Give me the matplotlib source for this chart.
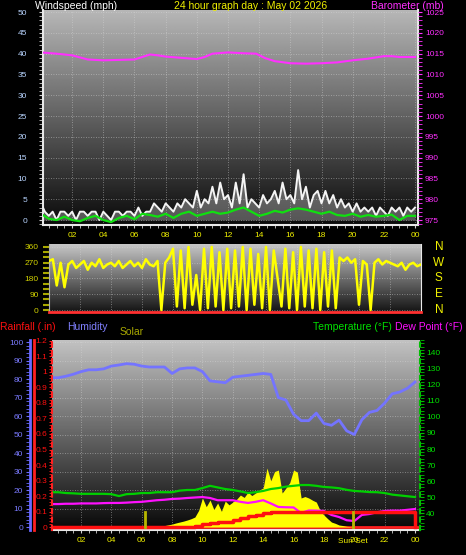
import matplotlib
matplotlib.use('Agg')
import matplotlib.pyplot as plt
import matplotlib.transforms as mtransforms
import numpy as np
from matplotlib.lines import Line2D
from matplotlib.ticker import MultipleLocator

plt.rcParams['font.family'] = ['Liberation Sans', 'DejaVu Sans']

W, H = 466, 555

# ---------------- data ----------------
hour_ticks = [2, 4, 6, 8, 10, 12, 14, 16, 18, 20, 22, 24]
hour_labels = ['02', '04', '06', '08', '10', '12', '14', '16', '18', '20', '22', '00']

wind_ticks = [0, 5, 10, 15, 20, 25, 30, 35, 40, 45, 50]
baro_ticks = [975, 980, 985, 990, 995, 1000, 1005, 1010, 1015, 1020, 1025]
dir_ticks = [0, 90, 180, 270, 360]
compass = ['N', 'E', 'S', 'W', 'N']
hum_ticks = [0, 10, 20, 30, 40, 50, 60, 70, 80, 90, 100]
rain_ticks = [0, 0.1, 0.2, 0.3, 0.4, 0.5, 0.6, 0.7, 0.8, 0.9, 1.0, 1.1, 1.2]
rain_labels = ['0', '0.1', '0.2', '0.3', '0.4', '0.5', '0.6', '0.7', '0.8', '0.9', '1', '1.1', '1.2']
temp_ticks = [40, 50, 60, 70, 80, 90, 100, 110, 120, 130, 140]

# barometer (mb)
baro_hours = [0, 1, 2, 3, 4, 5, 6, 7, 7.5, 8, 9, 10, 10.5, 11, 12, 13, 13.8, 14.4,
              15, 16, 17, 18, 19, 20, 21, 22, 22.5, 23, 24]
baro_mb = [1015.3, 1015.0, 1014.6, 1013.6, 1013.4, 1013.5, 1013.6, 1014.8, 1014.6, 1014.3,
           1014.0, 1013.7, 1014.2, 1015.0, 1015.3, 1015.1, 1015.0, 1013.9,
           1013.2, 1012.7, 1012.6, 1012.7, 1012.9, 1013.4, 1013.8, 1014.4, 1014.4, 1014.2, 1014.2]

# wind gust (mph), every 15 min
gust_mph = [4, 2, 1, 2, 0, 2, 2, 1, 2, 0, 2, 2, 1, 2, 2, 0,
            2, 1, 0, 2, 2, 1, 2, 2, 1, 3, 1, 2, 2, 4, 3, 2,
            4, 3, 2, 4, 3, 5, 4, 3, 7, 3, 5, 4, 8, 4, 9, 5,
            6, 3, 9, 4, 11, 3, 5, 4, 3, 6, 4, 5, 7, 4, 9, 5,
            6, 4, 12, 5, 8, 3, 6, 7, 4, 7, 4, 6, 3, 5, 3, 4,
            2, 4, 2, 3, 2, 3, 1, 3, 2, 1, 3, 2, 3, 1, 3, 2, 3]
# average wind speed (mph), every 30 min
avg_mph = [1.5, 0.3, 0, 0.8, 0, -0.3, 0.5, 1, 0, -0.5, 0.5, 1, 0.2, 1.5, 1.2, 0.8,
           1.5, 0.5, 1.5, 2, 1, 1.5, 2, 1.5, 1.8, 2.5, 3, 2, 1, 1.5, 2.2, 1.8,
           2.5, 2.8, 2.5, 2, 1.5, 2, 1.2, 1, 1.5, 0.8, 1.2, 0.8, 1, 1.3, 0, 1, 1]

# wind direction (degrees), every 15 min
wind_dir = [280, 290, 140, 270, 130, 260, 280, 240, 260, 280, 230, 270, 250, 290, 240, 260,
            270, 250, 280, 240, 260, 280, 250, 270, 240, 290, 260, 250, 280, 0, 270, 300,
            350, 20, 340, 10, 360, 30, 200, 0, 350, 10, 360, 20, 330, 0, 350, 10,
            340, 20, 360, 0, 350, 30, 320, 10, 360, 0, 340, 180, 20, 350, 10, 330,
            0, 360, 20, 340, 10, 350, 0, 330, 20, 340, 10, 300, 280, 300, 270, 290,
            30, 280, 260, 0, 270, 290, 260, 280, 270, 260, 250, 270, 230, 260, 270, 250, 260]

# humidity (%), temperature and dew point (F), every 30 min
humidity = [80.7, 80.7, 81.5, 82.6, 84, 85, 85, 85.5, 87, 87.6, 88.3, 88, 87, 86.5, 86.5, 86.5,
            83, 85.5, 86, 86, 84, 79, 78.5, 78, 81, 81.5, 82, 82.5, 83, 82.5, 70, 68.6,
            61, 57.5, 57.5, 61.6, 56, 55, 57.8, 52, 50, 58, 62, 63, 67, 72, 73, 75, 78.4]
temp_f = [53, 53, 52.5, 52.3, 52, 52, 52, 52, 51.8, 50.6, 51.8, 52, 52.5, 52.5, 53, 53,
          53, 54, 54.4, 54.4, 55.6, 57, 56, 55, 54.4, 53.5, 52.5, 53, 53.8, 55, 55.6, 56.5,
          57, 57.5, 57.5, 57, 56.3, 56, 55.5, 54.5, 53.8, 53.5, 53.1, 53, 52.5, 51.5, 51, 50.5, 50]
dew_f = [45.6, 45.6, 45.8, 45.8, 46, 46, 46, 46.2, 46.3, 46.3, 46.5, 46.8, 47, 47.5, 48, 48.3,
         48.8, 49, 49.4, 49.7, 50, 49.4, 48, 48, 48, 47, 46.3, 47, 48, 46, 43.8, 43.6,
         43.5, 40, 41.6, 41.5, 41.3, 38.8, 37.5, 35.5, 35, 38.8, 39.4, 40.5, 41.3, 41.5, 41.5, 42, 42.5]

# daily rainfall (in)
rain_hours = [0, 9.25, 9.5, 10, 10.5, 11, 11.5, 12, 12.5, 13, 13.5, 14, 14.5, 15, 23.95, 24]
rain_in = [0, 0, 0.01, 0.02, 0.025, 0.03, 0.035, 0.045, 0.06, 0.07, 0.08, 0.09, 0.1, 0.1, 0.1, 0]

# solar radiation (W/m2), every 15 min from 06:30
solar_start = 6.5
solar_wm2 = [0, 0, 3, 5, 8, 12, 16, 22, 27, 32, 38, 45, 54, 90, 157, 110,
             146, 95, 130, 85, 140, 120, 135, 150, 173, 160, 189, 170, 184, 200, 211, 319,
             250, 300, 308, 184, 211, 240, 308, 297, 157, 165, 157, 145, 135, 90, 65, 45,
             27, 20, 11, 8, 4, 2, 0]

sun_times = [6.2, 19.9]

t15 = np.arange(len(gust_mph)) * 0.25
t30 = np.arange(len(avg_mph)) * 0.5
td = np.arange(len(wind_dir)) * 0.25
th = np.arange(len(humidity)) * 0.5
ts = solar_start + np.arange(len(solar_wm2)) * 0.25

# ---------------- figure ----------------
fig = plt.figure(figsize=(W / 100, H / 100), dpi=100, facecolor='black')


def box(l, t, r, b):
    return fig.add_axes([l / W, 1 - b / H, (r - l) / W, (b - t) / H])


def shade(ax, top, bottom):
    g = np.linspace(top, bottom, 256).reshape(-1, 1)
    ax.imshow(g, cmap='gray', vmin=0, vmax=1, aspect='auto', extent=(0, 1, 0, 1),
              transform=ax.transAxes, zorder=0, interpolation='bilinear')


def dotted_grid(ax):
    ax.grid(True, which='major', color='#d8d8d8', lw=0.6, ls=(0, (1, 2)), alpha=0.6)


def hide(ax, names):
    for n in names:
        ax.spines[n].set_visible(False)


def label(x, y, s, color, size=7.5, ha='left'):
    fig.text(x / W, 1 - y / H, s, color=color, fontsize=size, ha=ha, va='center')


# ---- top: wind speed + barometer ----
ax_w = box(43, 10, 418, 225)
shade(ax_w, 0.72, 0.04)
ax_w.fill_between(t15, 0, gust_mph, color='#e0e0e0', alpha=0.35, lw=0, zorder=2)
ax_w.plot(t15, gust_mph, color='#f4f4f4', lw=1.4, zorder=3)
ax_w.plot(t30, avg_mph, color='#10e010', lw=1.6, zorder=4)
ax_w.set_xlim(0.13, 24.19)
ax_w.set_ylim(-1.2, 50.5)
ax_w.set_xticks(hour_ticks)
ax_w.set_xticklabels(hour_labels)
ax_w.xaxis.set_minor_locator(MultipleLocator(0.5))
ax_w.set_yticks(wind_ticks)
ax_w.yaxis.set_minor_locator(MultipleLocator(1))
ax_w.tick_params(axis='x', which='both', colors='#d0d0d0', labelcolor='#f0f000',
                 labelsize=6, length=2, pad=3)
ax_w.tick_params(axis='y', which='both', colors='#d0d0d0', labelcolor='#b8d4ff',
                 labelsize=6, length=3, pad=8.5)
dotted_grid(ax_w)
for n in ['left', 'bottom', 'right']:
    ax_w.spines[n].set_color('#e8e8e8')
    ax_w.spines[n].set_linewidth(1.5)
hide(ax_w, ['top'])

ax_b = ax_w.twinx()
ax_b.plot(baro_hours, baro_mb, color='#ff30ff', lw=1.5)
ax_b.set_ylim(973.8, 1025.5)
ax_b.set_yticks(baro_ticks)
ax_b.yaxis.set_minor_locator(MultipleLocator(1))
ax_b.tick_params(axis='y', which='both', colors='#ff30ff', labelcolor='#ff30ff',
                 labelsize=6, length=3, pad=2)
hide(ax_b, ['left', 'right', 'top', 'bottom'])

label(35, 6, 'Windspeed (mph)', 'white')
label(251, 6, '24 hour graph day : May 02 2026', '#f0f000', ha='center')
label(371, 6, 'Barometer (mb)', '#ff30ff')

# ---- middle: wind direction ----
ax_d = box(49, 244, 421, 312)
shade(ax_d, 0.78, 0.08)
ax_d.plot(td, wind_dir, color='#ffff00', lw=1.8, zorder=3)
ax_d.set_xlim(0, 24)
ax_d.set_ylim(-11.4, 377)
ax_d.set_xticks(hour_ticks)
ax_d.tick_params(axis='x', length=0, labelbottom=False)
ax_d.set_yticks(dir_ticks)
ax_d.yaxis.set_minor_locator(MultipleLocator(30))
ax_d.tick_params(axis='y', which='both', colors='#a8a800', labelcolor='#d0d000',
                 labelsize=6, length=4, width=1.5, pad=3.5)
dotted_grid(ax_d)
ax_d.spines['bottom'].set_color('#ff3030')
ax_d.spines['bottom'].set_linewidth(2)
ax_d.spines['left'].set_color('#b0b0b0')
ax_d.spines['right'].set_color('#e8e8e8')
hide(ax_d, ['top'])
blend = mtransforms.blended_transform_factory(ax_d.transAxes, ax_d.transData)
for v, s in zip(dir_ticks, compass):
    ax_d.text(1.048, v, s, transform=blend, color='#f0f000', fontsize=8.5,
              ha='center', va='center')

# ---- bottom: humidity, rain, solar, temperature ----
ax_h = box(52, 340, 420, 530)
shade(ax_h, 0.76, 0.03)
ax_h.plot(th, humidity, color='#7474ff', lw=2, zorder=3)
ax_h.set_xlim(0.09, 24.33)
ax_h.set_ylim(-1.6, 101.1)
ax_h.set_xticks(hour_ticks)
ax_h.set_xticklabels(hour_labels)
ax_h.xaxis.set_minor_locator(MultipleLocator(0.5))
ax_h.set_yticks(hum_ticks)
ax_h.yaxis.set_minor_locator(MultipleLocator(2))
ax_h.tick_params(axis='x', which='both', colors='#d0d0d0', labelcolor='#f0f000',
                 labelsize=6, length=2, pad=3)
ax_h.tick_params(axis='y', which='both', colors='#6a6aff', labelcolor='#7a7aff',
                 labelsize=6, length=3, pad=2)
dotted_grid(ax_h)
ax_h.spines['left'].set_position(('outward', 15.8))
ax_h.spines['left'].set_color('#6a6aff')
ax_h.spines['left'].set_linewidth(2)
ax_h.spines['bottom'].set_color('#e8e8e8')
ax_h.spines['bottom'].set_linewidth(1.5)
hide(ax_h, ['top', 'right'])

ax_s = ax_h.twinx()
ax_s.axhline(0, color='#ff2020', lw=2, zorder=1)
ax_s.fill_between(ts, 0, solar_wm2, color='#ffff00', lw=0, zorder=2)
ax_s.set_ylim(-16, 1011)
ax_s.set_yticks([])
hide(ax_s, ['left', 'right', 'top', 'bottom'])

ax_t = ax_h.twinx()
ax_t.plot(th, temp_f, color='#00d000', lw=1.6)
ax_t.plot(th, dew_f, color='#ff10ff', lw=1.6)
ax_t.set_ylim(29.4, 148.1)
ax_t.set_yticks(temp_ticks)
ax_t.yaxis.set_minor_locator(MultipleLocator(2))
ax_t.tick_params(axis='y', which='both', colors='#00c000', labelcolor='#00e000',
                 labelsize=6, length=3, pad=1.5)
ax_t.spines['right'].set_color('#00c000')
ax_t.spines['right'].set_linestyle((0, (2, 2)))
ax_t.spines['right'].set_linewidth(1.5)
hide(ax_t, ['left', 'top', 'bottom'])

ax_r = ax_h.twinx()
ax_r.plot(rain_hours, rain_in, color='#ff1010', lw=2.5, drawstyle='steps-post')
for t in sun_times:
    ax_r.axvline(t, ymin=0.015, ymax=0.095, color='#b8b800', lw=2)
ax_r.set_ylim(-0.019, 1.206)
ax_r.yaxis.tick_left()
ax_r.set_yticks(rain_ticks)
ax_r.set_yticklabels(rain_labels)
ax_r.yaxis.set_minor_locator(MultipleLocator(0.02))
ax_r.tick_params(axis='y', which='both', colors='#ff2020', labelcolor='#ff1010',
                 labelsize=6, length=2.2, pad=1)
ax_r.spines['left'].set_color('#ff2020')
ax_r.spines['left'].set_linestyle((0, (2, 2)))
ax_r.spines['left'].set_linewidth(1.5)
hide(ax_r, ['right', 'top', 'bottom'])

xblend = mtransforms.blended_transform_factory(ax_h.transData, ax_h.transAxes)
ax_h.text(sun_times[1], -0.058, 'Sun Set', transform=xblend, color='#f0f000',
          fontsize=6, ha='center', va='center')

fig.add_artist(Line2D([34 / W, 34 / W], [1 - 340 / H, 1 - 530 / H], color='#ff2020', lw=2))

label(0, 327, 'Rainfall (.in)', '#ff1010')
label(67, 327, 'Humidity', '#8080ff')
label(120, 332, 'Solar', '#a8a800')
label(313, 327, 'Temperature (°F)', '#00e000')
label(395, 327, 'Dew Point (°F)', '#ff10ff')

fig.savefig('out.png', dpi=100, facecolor='black')
